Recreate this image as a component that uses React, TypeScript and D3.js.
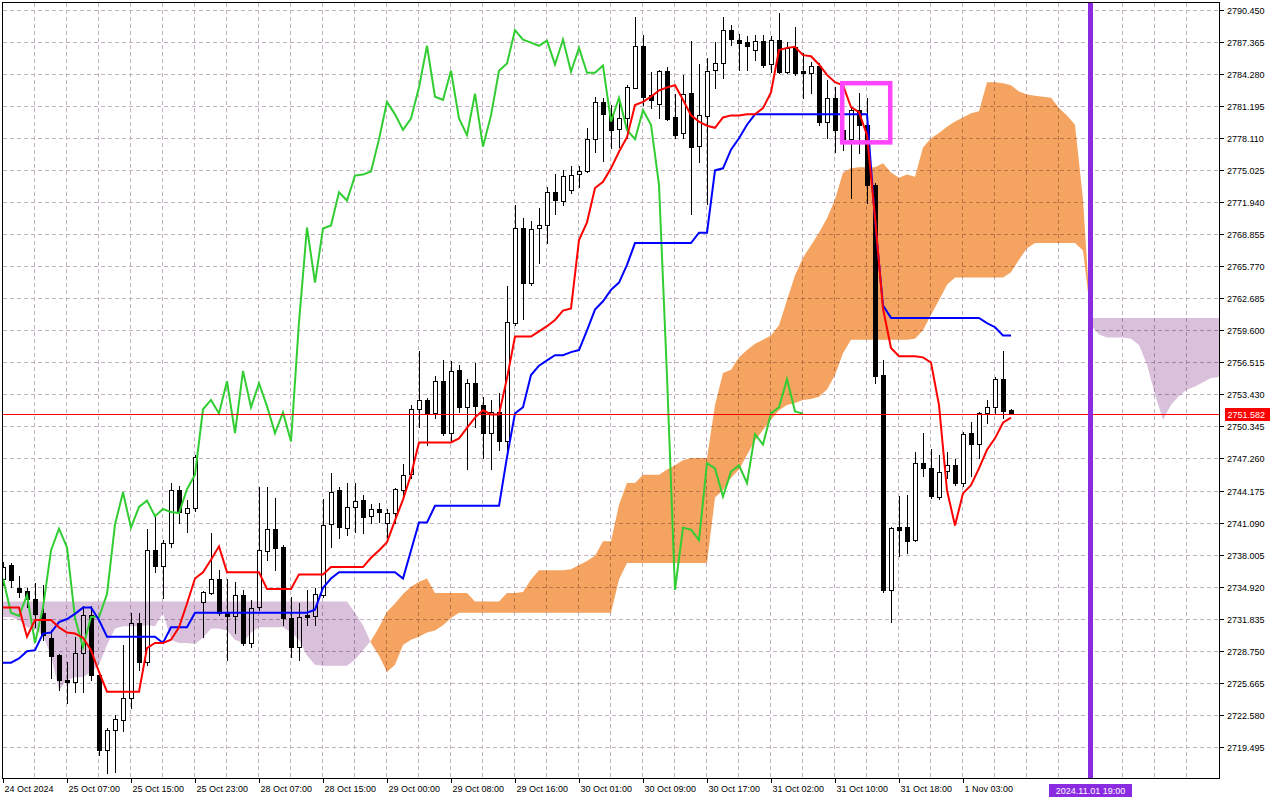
import React from "react";
import * as d3 from "d3";

// ---- Candles (H1, XAUUSD style) ----
const opens = [
  2735.6, 2737.0, 2734.8, 2734.5, 2733.7, 2732.4, 2730.0, 2728.3, 2725.9, 2725.7,
  2728.5, 2732.2, 2726.4, 2719.2, 2721.1, 2722.1, 2724.2, 2731.4, 2727.6, 2738.4,
  2736.9, 2739.1, 2744.2, 2742.0, 2742.5, 2733.4, 2734.4, 2735.7, 2732.4, 2732.1,
  2734.1, 2729.5, 2732.9, 2738.4, 2740.5, 2738.7, 2731.9, 2729.1, 2732.2, 2732.1,
  2734.2, 2740.9, 2744.2, 2740.6, 2742.6, 2743.3, 2741.7, 2742.4, 2741.0, 2742.0,
  2744.3, 2745.7, 2752.0, 2752.9, 2751.6, 2754.7, 2749.7, 2755.8, 2752.2, 2754.5,
  2752.4, 2749.7, 2751.7, 2748.9, 2760.4, 2769.5, 2764.2, 2769.4, 2769.7, 2772.9,
  2772.1, 2773.2, 2774.6, 2774.9, 2778.0, 2781.6, 2780.4, 2778.9, 2780.0, 2783.0,
  2787.0, 2782.3, 2781.4, 2784.6, 2780.1, 2778.6, 2782.5, 2777.3, 2780.3, 2784.6,
  2785.3, 2788.5, 2787.6, 2787.4, 2786.6, 2787.5, 2785.3, 2787.6, 2784.5, 2786.9,
  2784.6, 2784.4, 2785.1, 2779.7, 2782.0, 2778.9, 2778.0, 2780.8, 2779.4, 2773.6,
  2755.3, 2734.6, 2740.7, 2740.7, 2739.4, 2746.8, 2746.3, 2743.6, 2746.0, 2746.6,
  2744.9, 2749.7, 2748.6, 2751.6, 2752.2, 2754.9, 2751.9,
];
const highs = [
  2737.3, 2737.2, 2735.9, 2734.8, 2735.3, 2735.1, 2730.7, 2728.4, 2727.7, 2730.1,
  2733.1, 2733.1, 2726.7, 2721.3, 2722.6, 2729.3, 2732.4, 2732.4, 2740.5, 2741.7,
  2739.4, 2744.9, 2744.6, 2743.3, 2747.6, 2734.5, 2740.1, 2736.5, 2735.7, 2735.4,
  2734.6, 2733.6, 2744.5, 2744.5, 2743.5, 2738.9, 2733.9, 2733.3, 2734.6, 2734.8,
  2743.4, 2745.9, 2744.5, 2744.9, 2744.9, 2743.7, 2742.9, 2743.0, 2742.4, 2744.4,
  2746.7, 2752.4, 2757.6, 2753.1, 2755.2, 2756.7, 2756.6, 2756.3, 2754.9, 2756.5,
  2753.2, 2752.9, 2753.6, 2763.9, 2771.7, 2770.4, 2770.1, 2771.4, 2773.4, 2774.7,
  2775.0, 2775.4, 2775.4, 2779.1, 2782.1, 2782.0, 2781.3, 2782.0, 2783.2, 2789.8,
  2788.0, 2784.5, 2784.7, 2785.0, 2782.4, 2784.2, 2787.5, 2785.2, 2785.8, 2787.4,
  2789.8, 2789.0, 2788.1, 2787.9, 2788.0, 2788.0, 2787.9, 2790.2, 2787.4, 2788.8,
  2786.3, 2785.4, 2785.3, 2783.7, 2783.0, 2780.8, 2781.0, 2782.5, 2782.0, 2773.8,
  2756.7, 2740.7, 2743.6, 2743.7, 2747.9, 2749.7, 2748.2, 2747.6, 2747.9, 2747.2,
  2749.8, 2750.8, 2751.7, 2752.9, 2755.1, 2757.6, 2752.0,
];
const lows = [
  2735.1, 2734.9, 2733.9, 2733.0, 2731.0, 2729.8, 2726.1, 2725.0, 2723.7, 2724.8,
  2724.8, 2725.9, 2718.7, 2717.0, 2717.1, 2721.0, 2723.2, 2726.9, 2727.4, 2736.3,
  2733.8, 2738.7, 2741.0, 2740.2, 2742.2, 2730.1, 2734.2, 2732.2, 2727.9, 2730.5,
  2729.3, 2729.1, 2732.7, 2737.5, 2736.5, 2731.2, 2728.1, 2727.9, 2731.2, 2731.2,
  2733.9, 2738.7, 2739.6, 2739.9, 2740.2, 2740.1, 2741.0, 2741.1, 2739.7, 2741.0,
  2743.4, 2745.4, 2750.3, 2748.6, 2751.2, 2749.5, 2748.8, 2751.7, 2746.2, 2750.3,
  2747.3, 2746.2, 2748.1, 2748.1, 2760.1, 2760.7, 2764.0, 2766.1, 2768.0, 2770.8,
  2771.7, 2772.8, 2773.4, 2774.8, 2776.8, 2775.9, 2777.2, 2777.3, 2778.1, 2782.9,
  2781.3, 2781.0, 2780.0, 2779.9, 2778.1, 2778.1, 2770.8, 2775.8, 2771.8, 2782.9,
  2783.9, 2787.1, 2784.7, 2784.7, 2785.6, 2785.0, 2784.5, 2784.4, 2784.4, 2784.2,
  2782.0, 2782.5, 2779.4, 2778.1, 2776.8, 2777.0, 2772.3, 2776.7, 2771.9, 2754.5,
  2734.4, 2731.5, 2737.9, 2738.2, 2739.3, 2745.6, 2743.5, 2743.4, 2745.4, 2744.7,
  2744.6, 2745.6, 2747.3, 2750.7, 2751.5, 2751.2, 2751.5,
];
const closes = [
  2736.8, 2735.6, 2734.4, 2733.7, 2732.3, 2730.3, 2728.3, 2725.9, 2725.7, 2728.5,
  2732.2, 2726.4, 2719.2, 2721.1, 2722.2, 2724.2, 2731.4, 2727.6, 2738.4, 2736.9,
  2739.1, 2744.2, 2742.1, 2742.5, 2747.4, 2734.4, 2735.7, 2732.4, 2732.1, 2734.1,
  2729.5, 2732.9, 2738.4, 2740.5, 2738.7, 2731.9, 2729.1, 2732.0, 2732.0, 2734.2,
  2740.9, 2744.0, 2740.6, 2742.6, 2743.2, 2741.7, 2742.4, 2742.1, 2742.0, 2744.3,
  2745.7, 2752.0, 2752.9, 2751.6, 2754.7, 2749.7, 2755.7, 2752.2, 2754.5, 2752.3,
  2749.7, 2751.7, 2748.9, 2760.4, 2769.5, 2764.2, 2769.4, 2769.7, 2772.9, 2772.1,
  2774.5, 2774.6, 2774.9, 2778.0, 2781.6, 2780.4, 2778.9, 2780.0, 2783.0, 2787.0,
  2782.1, 2781.8, 2784.6, 2780.0, 2778.4, 2782.4, 2777.3, 2780.3, 2784.6, 2785.3,
  2788.5, 2787.6, 2787.3, 2787.0, 2787.5, 2785.2, 2787.6, 2784.5, 2786.8, 2784.4,
  2784.4, 2785.1, 2779.7, 2782.0, 2778.9, 2778.0, 2780.8, 2779.4, 2773.6, 2755.2,
  2734.6, 2740.6, 2740.4, 2739.4, 2746.8, 2746.3, 2743.6, 2746.0, 2746.6, 2744.9,
  2749.6, 2748.6, 2751.6, 2752.2, 2754.9, 2751.8, 2751.582,
];

// ---- Ichimoku lines ----
const tenkan = [
  2732.9, 2732.9, 2732.9, 2730.1, 2731.7, 2731.7, 2731.7, 2731.0, 2730.5, 2730.4,
  2730.0, 2728.8, 2726.7, 2724.8, 2724.8, 2724.8, 2724.8, 2724.8, 2729.0, 2729.5,
  2729.5, 2729.8, 2731.0, 2733.3, 2735.7, 2736.3, 2737.5, 2738.8, 2736.3, 2736.3,
  2736.3, 2736.3, 2736.3, 2734.7, 2734.7, 2734.7, 2734.7, 2736.1, 2736.1, 2736.1,
  2736.1, 2736.8, 2736.8, 2736.8, 2736.8, 2736.8, 2737.7, 2738.4, 2739.2, 2741.3,
  2743.3, 2745.7, 2748.8, 2748.8, 2748.8, 2748.8, 2748.8, 2749.2, 2750.2, 2751.2,
  2751.9, 2751.5, 2751.5, 2755.0, 2759.0, 2759.0, 2759.0, 2759.5, 2760.0, 2760.6,
  2761.5, 2761.7, 2768.3, 2770.0, 2773.3, 2773.9, 2775.2, 2776.8, 2778.2, 2781.3,
  2781.6, 2782.1, 2782.7, 2783.0, 2783.2, 2781.8, 2780.3, 2779.7, 2779.3, 2779.1,
  2780.1, 2780.3, 2780.3, 2780.4, 2780.4, 2781.0, 2782.5, 2786.6, 2786.8, 2786.9,
  2786.1, 2786.0, 2785.2, 2784.2, 2783.5, 2783.2, 2781.1, 2780.6, 2778.4, 2770.5,
  2761.7, 2757.9, 2757.1, 2757.1, 2757.1, 2757.0, 2756.5, 2752.4, 2744.2, 2740.8,
  2743.9, 2744.7, 2746.3, 2748.1, 2749.2, 2750.7, 2751.2,
];
const kijun = [
  2727.6, 2727.6, 2728.0, 2728.7, 2728.8, 2730.4, 2730.5, 2731.5, 2731.8, 2732.3,
  2732.9, 2732.9, 2731.7, 2730.1, 2730.1, 2730.1, 2730.1, 2730.1, 2730.1, 2730.1,
  2729.5, 2731.0, 2731.0, 2731.0, 2732.4, 2732.4, 2732.4, 2732.4, 2732.4, 2732.4,
  2732.4, 2732.4, 2732.4, 2732.4, 2732.4, 2732.4, 2732.4, 2732.4, 2732.4, 2732.7,
  2734.8, 2735.7, 2736.3, 2736.3, 2736.3, 2736.3, 2736.3, 2736.3, 2736.3, 2736.3,
  2735.7, 2738.4, 2741.1, 2741.1, 2742.7, 2742.7, 2742.7, 2742.7, 2742.7, 2742.7,
  2742.7, 2742.7, 2742.7, 2747.4, 2751.6, 2752.2, 2755.3, 2756.2, 2756.7, 2757.2,
  2757.2, 2757.5, 2757.7, 2759.6, 2761.6, 2762.4, 2763.5, 2764.2, 2765.9, 2768.0,
  2768.0, 2768.0, 2768.0, 2768.0, 2768.0, 2768.0, 2768.0, 2769.0, 2769.0, 2775.0,
  2775.2, 2777.0, 2778.1, 2779.4, 2780.4, 2780.4, 2780.4, 2780.4, 2780.4, 2780.4,
  2780.4, 2780.4, 2780.4, 2780.4, 2780.4, 2780.4, 2780.4, 2780.4, 2780.4, 2770.2,
  2762.0, 2760.8, 2760.8, 2760.8, 2760.8, 2760.8, 2760.8, 2760.8, 2760.8, 2760.8,
  2760.8, 2760.8, 2760.8, 2760.3, 2759.9, 2759.1, 2759.1,
];
// Senkou spans, drawn 26 bars ahead (indices 0..152)
const senkouA = [
  2732.0, 2732.0, 2731.7, 2731.0, 2730.9, 2730.2, 2728.3, 2725.0, 2725.9, 2726.2,
  2726.2, 2726.7, 2727.4, 2729.3, 2730.9, 2731.1, 2731.1, 2731.1, 2731.2, 2731.1,
  2732.4, 2729.8, 2729.5, 2729.5, 2729.4, 2730.0, 2730.9, 2730.9, 2730.7, 2729.8,
  2729.5, 2730.5, 2731.0, 2731.0, 2731.0, 2731.0, 2730.5, 2729.8, 2728.3, 2727.4,
  2727.3, 2727.3, 2727.3, 2727.3, 2727.9, 2728.8, 2729.7, 2731.0, 2732.5, 2733.3,
  2734.2, 2734.9, 2735.4, 2735.7, 2734.3, 2734.3, 2734.3, 2734.3, 2734.3, 2733.5,
  2733.5, 2733.5, 2733.5, 2734.3, 2734.3, 2734.4, 2735.6, 2736.5, 2736.5, 2736.5,
  2736.5, 2736.6, 2737.0, 2737.4, 2737.9, 2739.3, 2739.3, 2742.8, 2744.9, 2744.9,
  2745.7, 2745.7, 2745.7, 2746.2, 2746.6, 2747.1, 2747.3, 2747.3, 2747.3, 2752.4,
  2755.5, 2755.8, 2757.0, 2757.7, 2758.3, 2758.7, 2759.1, 2760.1, 2762.5, 2764.9,
  2766.6, 2767.8, 2769.0, 2770.4, 2772.2, 2774.8, 2775.2, 2775.3, 2775.3, 2775.3,
  2775.7, 2774.8, 2774.3, 2774.6, 2774.4, 2777.2, 2778.1, 2778.6, 2779.2, 2779.7,
  2780.1, 2780.5, 2780.7, 2783.5, 2783.5, 2783.4, 2783.2, 2782.6, 2782.3, 2782.2,
  2782.1, 2782.0, 2781.0, 2780.3, 2779.4, 2772.2, 2760.1, 2759.2, 2758.9, 2758.9,
  2758.9, 2758.8, 2758.2, 2756.3, 2753.4, 2751.0, 2752.4, 2753.3, 2753.9, 2754.2,
  2754.6, 2755.0, 2755.1,
];
const senkouB = [
  2733.5, 2733.5, 2733.5, 2733.5, 2733.5, 2733.5, 2733.5, 2733.5, 2733.5, 2733.5,
  2733.5, 2733.5, 2733.5, 2733.5, 2733.5, 2733.5, 2733.5, 2733.5, 2733.5, 2733.5,
  2733.5, 2733.5, 2733.5, 2733.5, 2733.5, 2733.5, 2733.5, 2733.5, 2733.5, 2733.5,
  2733.5, 2733.5, 2733.5, 2733.5, 2733.5, 2733.5, 2733.5, 2733.5, 2733.5, 2733.5,
  2733.5, 2733.5, 2733.5, 2733.5, 2732.4, 2731.2, 2729.5, 2728.3, 2726.7, 2727.4,
  2729.3, 2729.8, 2730.1, 2730.5, 2730.7, 2731.2, 2731.9, 2732.4, 2732.4, 2732.4,
  2732.4, 2732.4, 2732.4, 2732.4, 2732.4, 2732.4, 2732.4, 2732.4, 2732.4, 2732.4,
  2732.4, 2732.4, 2732.4, 2732.4, 2732.4, 2732.4, 2732.4, 2735.6, 2737.2, 2737.2,
  2737.2, 2737.2, 2737.2, 2737.2, 2737.2, 2737.2, 2737.2, 2737.2, 2737.2, 2743.5,
  2744.2, 2745.4, 2746.2, 2747.6, 2749.0, 2750.0, 2751.0, 2751.9, 2752.4, 2752.6,
  2752.9, 2753.0, 2753.2, 2753.9, 2755.3, 2757.4, 2758.7, 2758.7, 2758.7, 2758.7,
  2758.7, 2758.7, 2758.7, 2758.7, 2758.8, 2759.6, 2761.1, 2762.5, 2764.0, 2764.7,
  2764.7, 2764.7, 2764.7, 2764.7, 2764.7, 2764.7, 2765.2, 2766.4, 2767.5, 2768.0,
  2768.0, 2768.0, 2768.0, 2768.0, 2768.0, 2767.3, 2760.8, 2760.8, 2760.8, 2760.8,
  2760.8, 2760.8, 2760.8, 2760.8, 2760.8, 2760.8, 2760.8, 2760.8, 2760.8, 2760.8,
  2760.8, 2760.8, 2760.8,
];
const chikouShift = 26;

// ---- Axes ----
const timeLabels = [
  "24 Oct 2024", "25 Oct 07:00", "25 Oct 15:00", "25 Oct 23:00", "28 Oct 07:00",
  "28 Oct 15:00", "29 Oct 00:00", "29 Oct 08:00", "29 Oct 16:00", "30 Oct 01:00",
  "30 Oct 09:00", "30 Oct 17:00", "31 Oct 02:00", "31 Oct 10:00", "31 Oct 18:00",
  "1 Nov 03:00",
];
const timeLabelStep = 8;
const priceTicks = [
  2790.45, 2787.365, 2784.28, 2781.195, 2778.11, 2775.025, 2771.94, 2768.855,
  2765.77, 2762.685, 2759.6, 2756.515, 2753.43, 2750.345, 2747.26, 2744.175,
  2741.09, 2738.005, 2734.92, 2731.835, 2728.75, 2725.665, 2722.58, 2719.495,
];
const currentPrice = 2751.582;
const futureBar = 136;
const futureLabel = "2024.11.01 19:00";
// highlight box (bar index range, price range)
const boxBars = [104.9, 110.9];
const boxPrices = [2783.4, 2777.7];

const W = 1280, H = 800;
const PL = 2.5, PR = 1219.5, PT = 2.5, PB = 778.5;
const FONT = "'Liberation Sans', Arial, sans-serif";

type CP = { t: number; a: number; b: number };

export default function App() {
  const x = d3.scaleLinear().domain([0, 152]).range([3, 1219]);
  const y = d3.scaleLinear().domain([2716.3, 2791.41]).range([780, 0]);

  // cloud runs, split where the spans cross
  const pts: CP[] = [];
  for (let i = 0; i < senkouA.length; i++) {
    pts.push({ t: i, a: senkouA[i], b: senkouB[i] });
    if (i < senkouA.length - 1) {
      const d0 = senkouA[i] - senkouB[i];
      const d1 = senkouA[i + 1] - senkouB[i + 1];
      if (d0 * d1 < 0) {
        const f = d0 / (d0 - d1);
        const v = senkouA[i] + f * (senkouA[i + 1] - senkouA[i]);
        pts.push({ t: i + f, a: v, b: v });
      }
    }
  }
  const runs: { up: boolean; pts: CP[] }[] = [];
  let cur: CP[] = [];
  let curUp: boolean | null = null;
  for (const p of pts) {
    const d = p.a - p.b;
    if (d === 0) {
      cur.push(p);
      if (cur.length > 1) runs.push({ up: curUp ?? true, pts: cur });
      cur = [p];
      curUp = null;
      continue;
    }
    const up = d > 0;
    if (curUp === null || up === curUp) {
      curUp = up;
      cur.push(p);
    } else {
      runs.push({ up: curUp, pts: cur });
      cur = [p];
      curUp = up;
    }
  }
  if (cur.length > 1) runs.push({ up: curUp ?? true, pts: cur });

  const area = d3
    .area<CP>()
    .x((p) => x(p.t))
    .y0((p) => y(p.a))
    .y1((p) => y(p.b));

  const line = d3
    .line<number>()
    .x((_, i) => x(i))
    .y((v) => y(v));

  const chikou = closes.slice(chikouShift);

  const vGrid: number[] = [];
  for (let i = 4; i < 152; i += 4) vGrid.push(i);

  const cpY = y(currentPrice);
  const fx = x(futureBar);

  return (
    <div style={{ position: "absolute", left: 0, top: 0 }}>
      <svg width={W} height={H} style={{ display: "block", background: "#fff" }}>
        <defs>
          <clipPath id="plot">
            <rect x={PL} y={PT} width={PR - PL} height={PB - PT} />
          </clipPath>
        </defs>
        <rect x={0} y={0} width={W} height={H} fill="#fff" />
        <g clipPath="url(#plot)">
          {/* grid */}
          <g stroke="#c0b2c0" strokeWidth={1} strokeDasharray="4,3" shapeRendering="crispEdges">
            {priceTicks.map((p) => (
              <line key={"h" + p} x1={PL} x2={PR} y1={Math.round(y(p)) + 0.5} y2={Math.round(y(p)) + 0.5} />
            ))}
            {vGrid.map((i) => (
              <line key={"v" + i} x1={Math.round(x(i)) - 0.5} x2={Math.round(x(i)) - 0.5} y1={PT} y2={PB} />
            ))}
          </g>
          {/* candles */}
          <g shapeRendering="crispEdges">
            {opens.map((o, i) => {
              const c = closes[i];
              const cx = Math.round(x(i));
              const yo = y(o), yc = y(c);
              const top = Math.round(Math.min(yo, yc));
              const h = Math.max(0, Math.round(Math.abs(yo - yc)));
              const bull = c >= o;
              return (
                <g key={"c" + i}>
                  <line x1={cx + 0.5} x2={cx + 0.5} y1={Math.round(y(highs[i]))} y2={Math.round(y(lows[i])) + 1} stroke="#000" strokeWidth={1} />
                  <rect x={cx - 1.5} y={top + 0.5} width={4} height={Math.max(h, 1)} fill={bull ? "#fff" : "#000"} stroke="#000" strokeWidth={1} />
                </g>
              );
            })}
          </g>
          {/* cloud */}
          <g style={{ mixBlendMode: "multiply" }}>
            {runs.map((r, k) => (
              <path key={"k" + k} d={area(r.pts) || ""} fill={r.up ? "#F4A460" : "#D9C0DB"} stroke="none" />
            ))}
          </g>
          {/* lines */}
          <path d={line(chikou) || ""} fill="none" stroke="#32CD32" strokeWidth={2} />
          <path d={line(kijun) || ""} fill="none" stroke="#0000FF" strokeWidth={2} />
          <path d={line(tenkan) || ""} fill="none" stroke="#FF0000" strokeWidth={2} />
          {/* current price line */}
          <line x1={PL} x2={PR} y1={Math.round(cpY) + 0.5} y2={Math.round(cpY) + 0.5} stroke="#FF0000" strokeWidth={1} shapeRendering="crispEdges" />
          {/* future vertical line */}
          <line x1={fx - 0.5} x2={fx - 0.5} y1={PT} y2={PB} stroke="#8A2BE2" strokeWidth={5} />
          {/* highlight box */}
          <rect
            x={x(boxBars[0])}
            y={y(boxPrices[0])}
            width={x(boxBars[1]) - x(boxBars[0])}
            height={y(boxPrices[1]) - y(boxPrices[0])}
            fill="none"
            stroke="#FF44FF"
            strokeWidth={4.5}
          />
        </g>
        {/* frame */}
        <rect x={PL} y={PT} width={PR - PL} height={PB - PT} fill="none" stroke="#000" strokeWidth={1} shapeRendering="crispEdges" />
        {/* price axis */}
        <g fontFamily={FONT} fontSize={9} fill="#000">
          {priceTicks.map((p) => {
            const yy = Math.round(y(p)) + 0.5;
            return (
              <g key={"p" + p}>
                <line x1={PR} x2={PR + 4} y1={yy} y2={yy} stroke="#000" shapeRendering="crispEdges" />
                <text x={1227} y={yy + 3.2}>{p.toFixed(3)}</text>
              </g>
            );
          })}
          <rect x={1225} y={Math.round(cpY) - 6} width={45} height={13} fill="#FF0000" />
          <text x={1227.5} y={Math.round(cpY) + 3.7} fill="#fff">{currentPrice.toFixed(3)}</text>
        </g>
        {/* time axis */}
        <g fontFamily={FONT} fontSize={9} fill="#000">
          {timeLabels.map((t, k) => {
            const tx = Math.round(x(k * timeLabelStep)) + 0.5;
            return (
              <g key={"t" + k}>
                <line x1={tx} x2={tx} y1={PB} y2={PB + 4} stroke="#000" shapeRendering="crispEdges" />
                <text x={tx + 1} y={792}>{t}</text>
              </g>
            );
          })}
          <rect x={fx - 42} y={784} width={83} height={13} fill="#8A2BE2" />
          <text x={fx - 0.5} y={793.5} fill="#fff" textAnchor="middle">{futureLabel}</text>
        </g>
      </svg>
    </div>
  );
}
